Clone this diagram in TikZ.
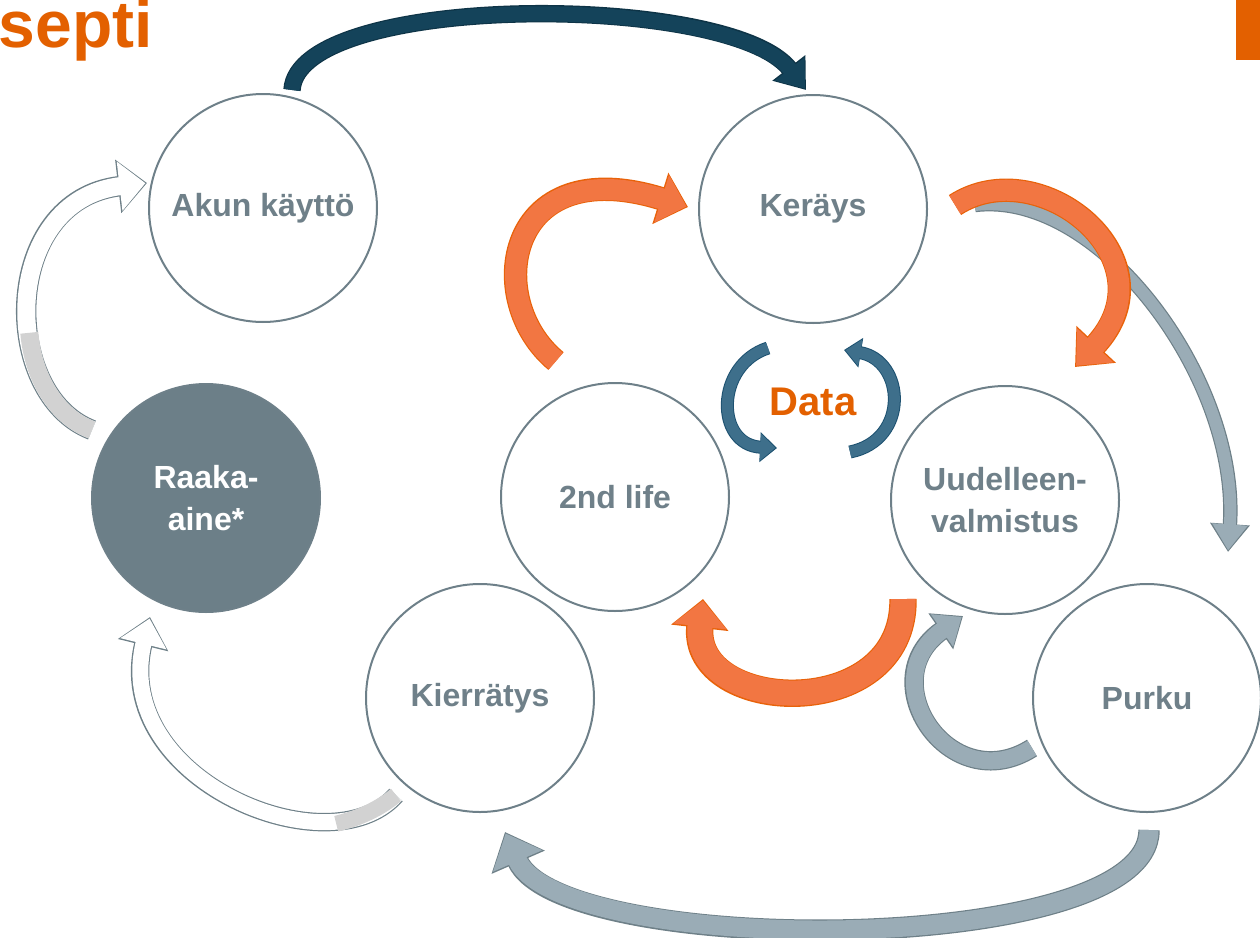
\documentclass[tikz,border=0pt]{standalone}
\usepackage{fontspec}
\setmainfont{Liberation Sans}
\usetikzlibrary{arrows.meta}
\definecolor{circgray}{HTML}{6E8089}
\definecolor{labelgray}{HTML}{6F8089}
\definecolor{raakafill}{HTML}{6C7F88}
\definecolor{titleorange}{HTML}{E36000}
\definecolor{navyfill}{HTML}{14435A}
\definecolor{navyedge}{HTML}{0E3447}
\definecolor{orfill}{HTML}{F27642}
\definecolor{oredge}{HTML}{E8620A}
\definecolor{gyfill}{HTML}{9AACB6}
\definecolor{gyedge}{HTML}{6E8088}
\definecolor{dtfill}{HTML}{3E6F8B}
\definecolor{dtedge}{HTML}{1D5170}
\definecolor{tailgray}{HTML}{D2D2D2}
% #1 path, #2 fill, #3 edge, #4 shaft width, #5 outline width, #6 head width, #7 head length, #8 outline head width, #9 outline head length
\newcommand{\bandarrow}[9]{%
  \draw[#3, line width=#5, line cap=butt, -{Triangle[width=#8,length=#9]}] #1;
  \draw[#2, line width=#4, line cap=butt, shorten >=1.6pt, -{Triangle[width=#6,length=#7]}] #1;
}
\tikzset{
  circ/.style={circle, draw=circgray, line width=2pt, fill=white, minimum size=228pt, inner sep=0pt,
    text=labelgray, font=\fontsize{32pt}{42pt}\selectfont\bfseries, align=center},
  raaka/.style={circ, fill=raakafill, text=white},
}
\begin{document}
\begin{tikzpicture}[x=1pt, y=-1pt]
\useasboundingbox (0,0) rectangle (1260,937);
% title and corner bar
\node[anchor=base east, inner sep=0pt, text=titleorange, font=\fontsize{66pt}{70pt}\selectfont\bfseries] (title) at (153,47) {septi};
\fill[titleorange] (1236,0) rectangle (1260,60);

% circles
\node[circ] (akun) at (263,208) {Akun käyttö};
\node[circ] (kerays) at (813,209) {Keräys};
\node[circ] (life) at (615,497) {2nd life};
\node[circ] (uud) at (1005,500) {Uudelleen-\\valmistus};
\node[raaka] (raaka) at (206,498) {Raaka-\\aine*};
\node[circ] (kierr) at (480,698) {Kierrätys};
\node[circ] (purku) at (1147,698) {Purku};
\node[text=titleorange, font=\fontsize{40pt}{44pt}\selectfont\bfseries] (data) at (813,402) {Data};

% coordinates for arrow ends
\coordinate (navyS) at (292,90);   \coordinate (navyE) at (806,90);
\coordinate (wlS) at (92,430);     \coordinate (wlE) at (147,183);
\coordinate (wbS) at (396,795);    \coordinate (wbE) at (150,617);
\coordinate (olS) at (556,361);    \coordinate (olE) at (688,207);
\coordinate (orS) at (955,205);    \coordinate (orE) at (1075,367);
\coordinate (grS) at (975,205);    \coordinate (grE) at (1228,552);
\coordinate (obS) at (903,599);    \coordinate (obE) at (703,599);
\coordinate (gsS) at (1032,748);   \coordinate (gsE) at (963,616);
\coordinate (gbS) at (1149,830);   \coordinate (gbE) at (505,832);
\coordinate (dlS) at (768,348);    \coordinate (dlE) at (777,448);
\coordinate (drS) at (850,452);    \coordinate (drE) at (844,350);

% big gray right arrow (behind orange)
\bandarrow{(grS) .. controls (1100,190) and (1240,380) .. (grE)}{gyfill}{gyedge}{12pt}{14.4pt}{34pt}{26pt}{38pt}{28pt}

% navy top arrow
\bandarrow{(navyS) .. controls (298,-8) and (730,-8) .. (navyE)}{navyfill}{navyedge}{15pt}{17.4pt}{36pt}{25pt}{40pt}{28pt}

% white left arrow (Raaka-aine -> Akun kaytto)
\bandarrow{(wlS) .. controls (0,395) and (0,200) .. (wlE)}{white}{gyedge}{18pt}{20.4pt}{48pt}{26pt}{52pt}{29pt}
\draw[tailgray, line width=18pt, line cap=butt] (wlS) .. controls (55.2,416) and (33.1,376.4) .. (29.3,332.8);

% white bottom-left arrow (Kierratys -> Raaka-aine)
\bandarrow{(wbS) .. controls (330,870) and (110,780) .. (wbE)}{white}{gyedge}{16pt}{18.4pt}{46pt}{26pt}{50pt}{29pt}
\draw[tailgray, line width=16pt, line cap=butt] (wbS) .. controls (379.5,808.75) and (358.9,818.3) .. (336.2,823.7);

% orange left arrow (2nd life -> Kerays)
\bandarrow{(olS) .. controls (482,300) and (505,150) .. (olE)}{orfill}{oredge}{21pt}{23.4pt}{48pt}{26pt}{52pt}{29pt}

% orange right arrow (Kerays -> Uudelleenvalmistus)
\bandarrow{(orS) .. controls (1040,150) and (1175,260) .. (orE)}{orfill}{oredge}{21pt}{23.4pt}{48pt}{28pt}{52pt}{31pt}

% orange bottom arrow (Uudelleenvalmistus -> 2nd life)
\bandarrow{(obS) .. controls (905,725) and (690,715) .. (obE)}{orfill}{oredge}{25pt}{27.4pt}{52pt}{26pt}{56pt}{29pt}

% small gray arrow (Purku -> Uudelleenvalmistus)
\bandarrow{(gsS) .. controls (950,800) and (870,680) .. (gsE)}{gyfill}{gyedge}{17pt}{19.4pt}{38pt}{24pt}{42pt}{27pt}

% bottom gray arrow (Purku -> Kierratys)
\bandarrow{(gbS) .. controls (1150,958) and (560,958) .. (gbE)}{gyfill}{gyedge}{19pt}{21.4pt}{52pt}{30pt}{56pt}{33pt}

% data arrows
\bandarrow{(dlS) .. controls (715,365) and (715,445) .. (dlE)}{dtfill}{dtedge}{11pt}{13pt}{26pt}{15pt}{29pt}{17pt}
\bandarrow{(drS) .. controls (910,440) and (905,360) .. (drE)}{dtfill}{dtedge}{11pt}{13pt}{26pt}{15pt}{29pt}{17pt}
\end{tikzpicture}
\end{document}
